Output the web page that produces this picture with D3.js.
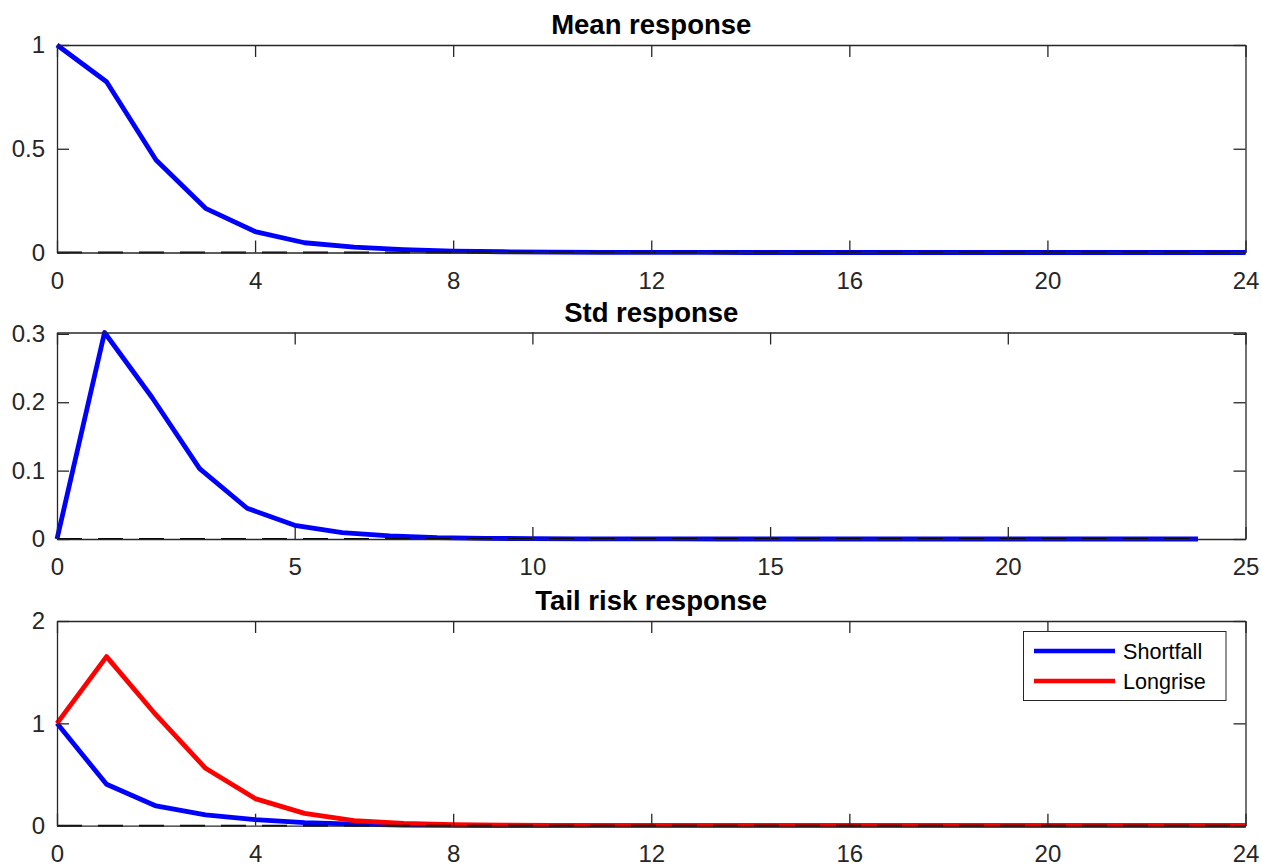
<!DOCTYPE html>
<html>
<head>
<meta charset="utf-8">
<script src="https://cdn.jsdelivr.net/npm/d3@7"></script>
<style>
  html, body { margin: 0; padding: 0; background: #fff; }
  svg { display: block; font-family: "Liberation Sans", Arial, Helvetica, sans-serif; }
</style>
</head>
<body>
<svg id="chart" width="1262" height="866"></svg>
<script>
// Impulse-response horizons (periods after the shock)
const horizon = [0, 1, 2, 3, 4, 5, 6, 7, 8, 9, 10, 11, 12, 13, 14, 15, 16, 17, 18, 19, 20, 21, 22, 23, 24];

// Response of the conditional mean
const meanResp = [1, 0.823, 0.446, 0.213, 0.101, 0.047, 0.026, 0.014, 0.007, 0.0035, 0.0017, 0.0008,
  0.0004, 0.0002, 0.0001, 0.00005, 0, 0, 0, 0, 0, 0, 0, 0, 0];

// Response of the conditional standard deviation
const stdResp = [0, 0.302, 0.207, 0.103, 0.045, 0.020, 0.0092, 0.0046, 0.002, 0.001, 0.0005, 0.0002,
  0.0001, 0.00005, 0, 0, 0, 0, 0, 0, 0, 0, 0, 0, 0];

// Tail-risk responses
const shortfall = [1, 0.405, 0.193, 0.105, 0.060, 0.030, 0.015, 0.007, 0.0035, 0.0017, 0.0008, 0.0004,
  0.0002, 0.0001, 0, 0, 0, 0, 0, 0, 0, 0, 0, 0, 0];
const longrise = [1, 1.652, 1.082, 0.561, 0.265, 0.120, 0.050, 0.023, 0.010, 0.005, 0.0022, 0.001,
  0.0005, 0.0002, 0.0001, 0, 0, 0, 0, 0, 0, 0, 0, 0, 0];

// Axis ticks
const ticksH24 = [0, 4, 8, 12, 16, 20, 24];
const ticksH25 = [0, 5, 10, 15, 20, 25];
const ticksMean = [0, 0.5, 1];
const ticksStd = [0, 0.1, 0.2, 0.3];
const ticksTail = [0, 1, 2];

const titles = ["Mean response", "Std response", "Tail risk response"];
const legendLabels = ["Shortfall", "Longrise"];

const AXIS_COLOR = "#262626";
const TICK_LEN = 12;
const svg = d3.select("#chart");

function panel(cfg) {
  const { top, bottom, xDomain, xTicks, yDomain, yTicks, series, title } = cfg;
  const left = 57, right = 1245.5;
  const x = d3.scaleLinear().domain(xDomain).range([left, right]);
  const y = d3.scaleLinear().domain(yDomain).range([bottom, top]);
  const g = svg.append("g");

  // data lines
  const line = d3.line().x((d, i) => x(horizon[i])).y(d => y(d));
  series.forEach(s => {
    g.append("path")
      .datum(s.values)
      .attr("d", line)
      .attr("fill", "none")
      .attr("stroke", s.color)
      .attr("stroke-width", 4.8)
      .attr("stroke-linejoin", "round")
      .attr("stroke-linecap", "butt");
  });

  // dashed zero reference line
  g.append("path")
    .datum(horizon)
    .attr("d", d3.line().x(d => x(d)).y(() => y(0)))
    .attr("fill", "none")
    .attr("stroke", "#000")
    .attr("stroke-width", 2)
    .attr("stroke-dasharray", "25,16");

  // axes on all four sides with inward ticks
  const fmt = d => String(d);
  const bottomAxis = d3.axisBottom(x).tickValues(xTicks).tickSizeInner(-TICK_LEN).tickSizeOuter(0).tickPadding(19).tickFormat(fmt);
  const topAxis = d3.axisTop(x).tickValues(xTicks).tickSizeInner(-TICK_LEN).tickSizeOuter(0).tickFormat("");
  const leftAxis = d3.axisLeft(y).tickValues(yTicks).tickSizeInner(-TICK_LEN).tickSizeOuter(0).tickPadding(12).tickFormat(fmt);
  const rightAxis = d3.axisRight(y).tickValues(yTicks).tickSizeInner(-TICK_LEN).tickSizeOuter(0).tickFormat("");

  const axes = [
    g.append("g").attr("transform", `translate(0,${bottom})`).call(bottomAxis),
    g.append("g").attr("transform", `translate(0,${top})`).call(topAxis),
    g.append("g").attr("transform", `translate(${left},0)`).call(leftAxis),
    g.append("g").attr("transform", `translate(${right},0)`).call(rightAxis)
  ];
  axes.forEach(a => {
    a.select(".domain").attr("stroke", AXIS_COLOR).attr("stroke-width", 1.3);
    a.selectAll(".tick line").attr("stroke", AXIS_COLOR).attr("stroke-width", 1.3);
    a.selectAll(".tick text")
      .attr("fill", AXIS_COLOR)
      .style("font-size", "24px")
      .style("font-family", "'Liberation Sans', Arial, sans-serif");
  });

  // panel title
  g.append("text")
    .attr("x", (left + right) / 2)
    .attr("y", top - 11)
    .attr("text-anchor", "middle")
    .style("font-size", "27.5px")
    .style("font-weight", "bold")
    .attr("fill", "#000")
    .text(title);

  return { g, x, y, left, right, top, bottom };
}

panel({
  top: 45, bottom: 252.5, xDomain: [0, 24], xTicks: ticksH24,
  yDomain: [0, 1], yTicks: ticksMean,
  series: [{ values: meanResp, color: "#0000ff" }], title: titles[0]
});

panel({
  top: 332.5, bottom: 539, xDomain: [0, 25], xTicks: ticksH25,
  yDomain: [0, d3.max(stdResp)], yTicks: ticksStd,
  series: [{ values: stdResp, color: "#0000ff" }], title: titles[1]
});

const p3 = panel({
  top: 621, bottom: 825.7, xDomain: [0, 24], xTicks: ticksH24,
  yDomain: [0, 2], yTicks: ticksTail,
  series: [{ values: shortfall, color: "#0000ff" }, { values: longrise, color: "#ff0000" }],
  title: titles[2]
});

// legend for the tail-risk panel
const legendColors = ["#0000ff", "#ff0000"];
const lg = p3.g.append("g");
lg.append("rect")
  .attr("x", 1023.5).attr("y", 631.5)
  .attr("width", 202.5).attr("height", 69)
  .attr("fill", "#fff")
  .attr("stroke", AXIS_COLOR)
  .attr("stroke-width", 1);
legendLabels.forEach((lab, i) => {
  const cy = 651 + i * 30;
  lg.append("line")
    .attr("x1", 1034).attr("x2", 1115)
    .attr("y1", cy).attr("y2", cy)
    .attr("stroke", legendColors[i])
    .attr("stroke-width", 4.5);
  lg.append("text")
    .attr("x", 1123).attr("y", cy)
    .attr("dy", "0.36em")
    .style("font-size", "21.6px")
    .attr("fill", "#000")
    .text(lab);
});
</script>
</body>
</html>
